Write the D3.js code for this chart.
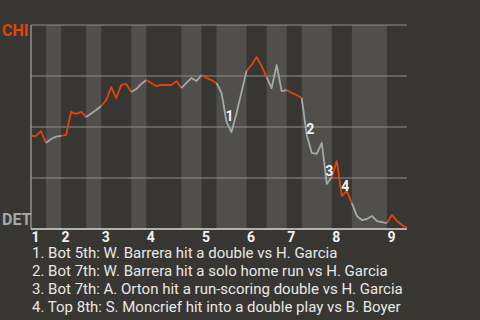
<!DOCTYPE html>
<html>
<head>
<meta charset="utf-8">
<script src="https://cdn.jsdelivr.net/npm/d3@7"></script>
<style>
  body { margin: 0; background: #383632; }
  svg { display: block; font-family: Roboto, sans-serif; }
</style>
</head>
<body>
<svg id="chart" width="480" height="320"></svg>
<script>
// CHI win probability (%) after each plate appearance
const winProb = [
  45.6, 45.6, 48.0, 42.2, 44.1, 45.3, 45.6, 46.1, 57.4, 56.4,
  57.4, 54.9, 56.6, 58.3, 60.3, 63.2, 69.6, 64.2, 70.6, 71.1,
  67.2, 68.6, 71.1, 73.0, 71.6, 70.1, 70.6, 70.6, 70.6, 72.5,
  69.1, 71.6, 74.0, 72.5, 75.5, 74.0, 73.0, 71.6, 66.7, 52.5,
  47.5, 56.9, 67.2, 77.5, 80.4, 84.3, 79.9, 74.5, 69.1, 80.4,
  67.6, 68.1, 66.7, 65.7, 64.2, 46.1, 37.3, 36.8, 42.2, 22.1,
  25.5, 33.3, 16.2, 18.6, 12.7, 6.4, 4.4, 4.9, 6.4, 3.9,
  3.4, 2.9, 6.9, 3.9, 2.0, 0.5
];
// plate appearance index where each half inning starts (top 1st, bot 1st, ...), last = end
const halfStarts = [0, 3, 6, 11, 14, 20, 23, 30, 34, 37, 43, 47, 51, 54, 60, 64, 71, 75];
const inningLabels = ["1", "2", "3", "4", "5", "6", "7", "8", "9"];
const gridValues = [25, 50, 75, 100];
const teams = ["CHI", "DET"];
const noteEvents = [39, 55, 59, 62];
const notes = [
  "1. Bot 5th: W. Barrera hit a double vs H. Garcia",
  "2. Bot 7th: W. Barrera hit a solo home run vs H. Garcia",
  "3. Bot 7th: A. Orton hit a run-scoring double vs H. Garcia",
  "4. Top 8th: S. Moncrief hit into a double play vs B. Boyer"
];

const svg = d3.select("#chart");
const plotLeft = 31, plotRight = 407, plotTop = 25, plotBottom = 229;
const orange = "#e2440c", grey = "#a3a9ab";

const x = d3.scaleLinear().domain([0, winProb.length - 1]).range([plotLeft, plotRight]);
const y = d3.scaleLinear().domain([0, 100]).range([plotBottom, plotTop]);

// half innings; bottom halves get shaded
const halves = d3.range(halfStarts.length - 1).map(i => ({
  i, start: halfStarts[i], end: halfStarts[i + 1], isTop: i % 2 === 0
}));

svg.append("g").selectAll("rect")
  .data(halves.filter(h => !h.isTop))
  .join("rect")
  .attr("x", d => x(d.start))
  .attr("width", d => x(d.end) - x(d.start))
  .attr("y", y(100))
  .attr("height", y(0) - y(100))
  .attr("fill", "#504f4c");

svg.append("g").selectAll("line")
  .data(gridValues)
  .join("line")
  .attr("x1", plotLeft).attr("x2", plotRight)
  .attr("y1", d => y(d)).attr("y2", d => y(d))
  .attr("stroke", "#8e8d8a")
  .attr("stroke-width", 1.2);

svg.append("line")
  .attr("x1", plotLeft).attr("x2", plotLeft)
  .attr("y1", y(100)).attr("y2", y(0))
  .attr("stroke", "#a8a7a4").attr("stroke-width", 1.2);

svg.append("line")
  .attr("x1", plotLeft).attr("x2", plotRight)
  .attr("y1", y(0)).attr("y2", y(0))
  .attr("stroke", "#d8d8d8").attr("stroke-width", 1.5);

// inning labels
const innings = halves.filter(h => h.isTop);
svg.append("g").selectAll("text")
  .data(innings)
  .join("text")
  .attr("x", d => x(d.start) + 4.5)
  .attr("y", 242)
  .attr("text-anchor", "middle")
  .attr("font-size", 14)
  .attr("font-weight", "bold")
  .attr("fill", "#f2f2f2")
  .text((d, i) => inningLabels[i]);

// win probability line, coloured by half inning
const line = d3.line()
  .x(d => x(d))
  .y(d => y(winProb[d]));

svg.append("g").selectAll("path")
  .data(halves)
  .join("path")
  .attr("d", d => line(d3.range(d.start, d.end + 1)))
  .attr("fill", "none")
  .attr("stroke", d => d.isTop ? orange : grey)
  .attr("stroke-width", 1.8)
  .attr("stroke-linejoin", "round");

// event markers
const noteOffsets = [[3, -6], [3.5, -6], [2.5, -13], [3.5, -10]];
svg.append("g").selectAll("text")
  .data(noteEvents)
  .join("text")
  .attr("x", (d, i) => x(d) + noteOffsets[i][0])
  .attr("y", (d, i) => y(winProb[d]) + noteOffsets[i][1])
  .attr("text-anchor", "middle")
  .attr("dominant-baseline", "central")
  .attr("font-size", 14)
  .attr("font-weight", "bold")
  .attr("fill", "#f4f4f4")
  .text((d, i) => i + 1);

// team labels
svg.append("text")
  .attr("x", 2).attr("y", 36)
  .attr("font-size", 16).attr("font-weight", "bold")
  .attr("fill", orange)
  .text(teams[0]);

svg.append("text")
  .attr("x", 2).attr("y", 225)
  .attr("font-size", 16).attr("font-weight", "bold")
  .attr("fill", grey)
  .text(teams[1]);

// notes
svg.append("g").selectAll("text")
  .data(notes)
  .join("text")
  .attr("x", 32)
  .attr("y", (d, i) => 258 + i * 18)
  .attr("font-size", 15)
  .attr("fill", "#e8e8e8")
  .text(d => d);
</script>
</body>
</html>
